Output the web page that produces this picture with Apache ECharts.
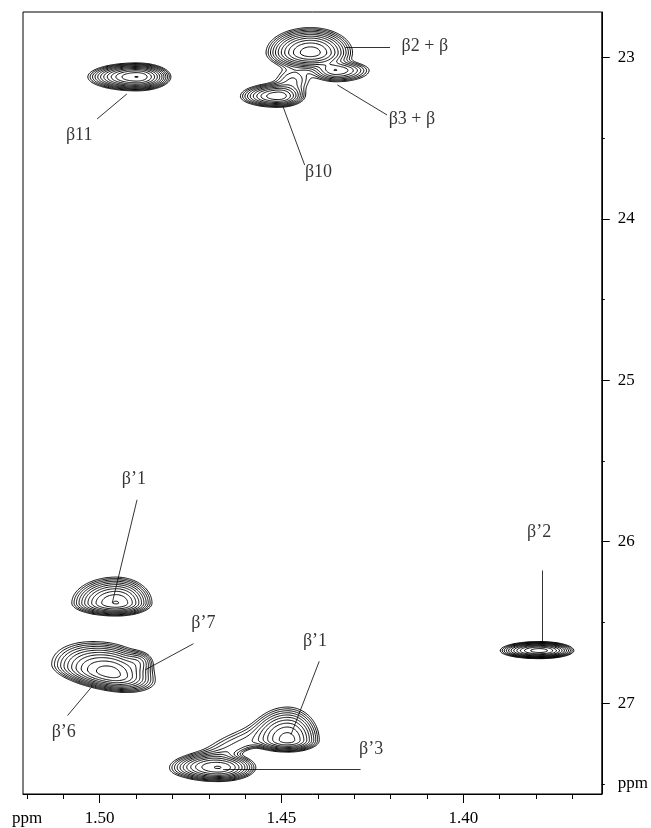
<!DOCTYPE html>
<html><head><meta charset="utf-8">
<script src="https://cdn.jsdelivr.net/npm/echarts@6/dist/echarts.min.js"></script>
<style>html,body{margin:0;padding:0;background:#fff}#c{width:651px;height:828px}</style>
</head><body><div id="c"></div>
<script>
// ---- axes (ppm) ----
const axisMinX = 1.3619, axisMaxX = 1.5211;   // 1H ppm (reversed)
const axisMinY = 22.718, axisMaxY = 27.563;   // 13C ppm (down = larger)
const xMajorTicks = [1.40, 1.45, 1.50];
const xMinorTicks = [1.37, 1.38, 1.39, 1.41, 1.42, 1.43, 1.44, 1.46, 1.47, 1.48, 1.49, 1.51, 1.52];
const xLabelValues = [1.40, 1.45, 1.50, 1.52];
const yMajorTicks = [23, 24, 25, 26, 27];
const yMinorTicks = [23.5, 24.5, 25.5, 26.5, 27.5];
const yLabelValues = [23, 24, 25, 26, 27, 27.5];
const unitX = 1.52, unitY = 27.5; // tick positions carrying the "ppm" unit label

// ---- cross peaks (ppm); unnamed entries are weak ridges joining overlapping peaks ----
const peakNames       = ['β11', 'β2+β', 'β3+β', 'β10', '', 'β’1', 'β’6', 'β’7', 'β’1', 'β’3', '', 'β’2'];
const peakCenterX     = [1.4898, 1.4420, 1.4350, 1.4510, 1.4469, 1.4955, 1.4972, 1.4893, 1.4483, 1.4674, 1.4625, 1.3790];
const peakCenterY     = [23.12, 22.97, 23.08, 23.24, 23.139, 26.38, 26.815, 26.743, 27.23, 27.399, 27.276, 26.675];
const peakHeight      = [18, 16, 6, 10, 2.2, 14, 16, 2.5, 12, 14, 2.4, 16];
const peakWidthLeft   = [0.0056, 0.0052, 0.0033, 0.0048, 0.0033, 0.0053, 0.0068, 0.0022, 0.0045, 0.0057, 0.0075, 0.0046];
const peakWidthRight  = [0.0039, 0.0049, 0.0048, 0.0034, 0.0033, 0.0043, 0.0053, 0.0022, 0.0039, 0.0045, 0.0055, 0.0040];
const peakWidthUp     = [0.036, 0.066, 0.030, 0.037, 0.050, 0.070, 0.080, 0.037, 0.092, 0.040, 0.070, 0.024];
const peakWidthDown   = [0.036, 0.045, 0.037, 0.032, 0.050, 0.035, 0.047, 0.037, 0.033, 0.038, 0.030, 0.021];
const peakTilt        = [0, 0, 0, 0, 0, 0, -3.5, 0, 0, 0, 8, 0];   // ppm(13C) per ppm(1H)
const contourLevels   = [1, 1.3, 1.69, 2.2, 2.86, 3.71, 4.83, 6.27, 8.16, 10.6, 13.8, 17.9];

// ---- assignments ----
const labelTexts  = ['β11', 'β2 + β', 'β3 + β', 'β10', 'β’1', 'β’7', 'β’6', 'β’1', 'β’3', 'β’2'];
const labelX      = [1.50566, 1.41057, 1.41413, 1.43981, 1.49062, 1.47150, 1.50989, 1.44077, 1.42533, 1.37915];
const labelY      = [23.480, 22.929, 23.381, 23.709, 25.616, 26.508, 27.183, 26.616, 27.288, 25.941];
const leaderFromX = [1.50074, 1.43243, 1.43462, 1.44965, 1.48973, 1.47423, 1.50885, 1.43962, 1.46604, 1.37814];
const leaderFromY = [23.381, 22.935, 23.170, 23.300, 25.740, 26.632, 27.077, 26.741, 27.407, 26.178];
const leaderToX   = [1.49254, 1.42014, 1.42096, 1.44363, 1.49656, 1.48743, 1.50246, 1.44738, 1.42825, 1.37814];
const leaderToY   = [23.226, 22.935, 23.356, 23.666, 26.380, 26.793, 26.906, 27.195, 27.407, 26.617];

// ---- intensity field and contouring ----
function field(x, y) {
  let v = 0;
  for (let k = 0; k < peakCenterX.length; k++) {
    const dx = x - peakCenterX[k];
    const u = dx / (dx > 0 ? peakWidthLeft[k] : peakWidthRight[k]);
    if (u > 6 || u < -6) continue;
    const dy = (y - peakCenterY[k]) - peakTilt[k] * dx;
    const w = dy / (dy < 0 ? peakWidthUp[k] : peakWidthDown[k]);
    if (w > 6 || w < -6) continue;
    v += peakHeight[k] * Math.exp(-0.5 * (u * u + w * w));
  }
  return v;
}
const NX = 620, NY = 820, W = NX + 1;
const gx = new Float64Array(NX + 1), gy = new Float64Array(NY + 1);
for (let i = 0; i <= NX; i++) gx[i] = axisMinX + (axisMaxX - axisMinX) * i / NX;
for (let j = 0; j <= NY; j++) gy[j] = axisMinY + (axisMaxY - axisMinY) * j / NY;
const F = new Float32Array((NX + 1) * (NY + 1));
for (let j = 0; j <= NY; j++) for (let i = 0; i <= NX; i++) F[j * W + i] = field(gx[i], gy[j]);

const CASES = [[], [[3,0]], [[0,1]], [[3,1]], [[1,2]], [[3,0],[1,2]], [[0,2]], [[3,2]],
               [[2,3]], [[0,2]], [[0,1],[2,3]], [[1,2]], [[1,3]], [[0,1]], [[0,3]], []];
const segments = [];
for (let j = 0; j < NY; j++) {
  for (let i = 0; i < NX; i++) {
    const v0 = F[j*W+i], v1 = F[j*W+i+1], v2 = F[(j+1)*W+i+1], v3 = F[(j+1)*W+i];
    const mx = Math.max(v0, v1, v2, v3), mn = Math.min(v0, v1, v2, v3);
    if (mx < contourLevels[0]) continue;
    const xa = gx[i], xb = gx[i+1], ya = gy[j], yb = gy[j+1];
    for (const L of contourLevels) {
      if (L <= mn || L > mx) continue;
      const c = (v0 > L ? 1 : 0) | (v1 > L ? 2 : 0) | (v2 > L ? 4 : 0) | (v3 > L ? 8 : 0);
      const pt = e => {
        if (e === 0) return [xa + (L - v0) / (v1 - v0) * (xb - xa), ya];
        if (e === 1) return [xb, ya + (L - v1) / (v2 - v1) * (yb - ya)];
        if (e === 2) return [xa + (L - v3) / (v2 - v3) * (xb - xa), yb];
        return [xa, ya + (L - v0) / (v3 - v0) * (yb - ya)];
      };
      for (const p of CASES[c]) segments.push({ coords: [pt(p[0]), pt(p[1])] });
    }
  }
}

const leaders = labelTexts.map((t, k) => ({ coords: [[leaderFromX[k], leaderFromY[k]], [leaderToX[k], leaderToY[k]]] }));
const labelData = labelTexts.map((t, k) => ({ name: t, value: [labelX[k], labelY[k]] }));

const FONT = 'Liberation Serif';
const near = (a, b) => Math.abs(a - b) < 1e-6;
const chart = echarts.init(document.getElementById('c'), null, { renderer: 'canvas', width: 651, height: 828 });
chart.setOption({
  animation: false,
  backgroundColor: '#fff',
  grid: { left: 23, right: 45, top: 12, bottom: 34, show: true, borderColor: '#000', borderWidth: 1, backgroundColor: 'transparent' },
  xAxis: [
    { type: 'value', min: axisMinX, max: axisMaxX, inverse: true, position: 'bottom',
      axisLine: { show: true, onZero: false, lineStyle: { color: '#000', width: 1 } },
      axisTick: { show: true, customValues: xMajorTicks, length: 9, lineStyle: { color: '#000' } },
      axisLabel: { show: true, customValues: xLabelValues, margin: 16, color: '#000', fontFamily: FONT, fontSize: 17,
        formatter: v => near(v, unitX) ? 'ppm' : Number(v).toFixed(2) },
      splitLine: { show: false } },
    { type: 'value', min: axisMinX, max: axisMaxX, inverse: true, position: 'bottom', offset: 0,
      axisLine: { show: false, onZero: false },
      axisTick: { show: true, customValues: xMinorTicks, length: 5, lineStyle: { color: '#000' } },
      axisLabel: { show: false }, splitLine: { show: false } }
  ],
  yAxis: [
    { type: 'value', min: axisMinY, max: axisMaxY, inverse: true, position: 'right',
      axisLine: { show: true, onZero: false, lineStyle: { color: '#000', width: 1 } },
      axisTick: { show: true, customValues: yMajorTicks, length: 8, lineStyle: { color: '#000' } },
      axisLabel: { show: true, customValues: yLabelValues, margin: 16, color: '#000', fontFamily: FONT, fontSize: 17,
        formatter: v => near(v, unitY) ? 'ppm' : String(Math.round(v)) },
      splitLine: { show: false } },
    { type: 'value', min: axisMinY, max: axisMaxY, inverse: true, position: 'right', offset: 0,
      axisLine: { show: false, onZero: false },
      axisTick: { show: true, customValues: yMinorTicks, length: 3, lineStyle: { color: '#000' } },
      axisLabel: { show: false }, splitLine: { show: false } }
  ],
  series: [
    { type: 'lines', coordinateSystem: 'cartesian2d', xAxisIndex: 0, yAxisIndex: 0, large: true, largeThreshold: 100,
      silent: true, data: segments, lineStyle: { color: '#000', width: 1, opacity: 1 } },
    { type: 'lines', coordinateSystem: 'cartesian2d', xAxisIndex: 0, yAxisIndex: 0, silent: true,
      data: leaders, lineStyle: { color: '#000', width: 0.8, opacity: 1 }, symbol: ['none', 'none'] },
    { type: 'scatter', xAxisIndex: 0, yAxisIndex: 0, silent: true, symbolSize: 1,
      itemStyle: { color: 'rgba(0,0,0,0)' }, data: labelData,
      label: { show: true, position: 'inside', formatter: p => p.name, color: '#000', fontFamily: FONT, fontSize: 18 } }
  ]
});
</script></body></html>
